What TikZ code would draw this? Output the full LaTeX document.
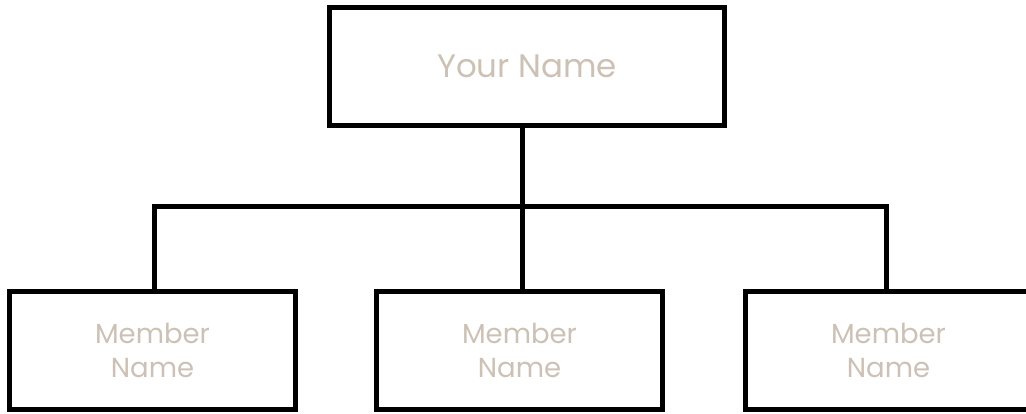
\documentclass[tikz,border=0pt]{standalone}
\usepackage{fontspec}
\setmainfont{Poppins}
\usetikzlibrary{positioning}
\definecolor{namecol}{RGB}{204,193,180}
\tikzset{
  namebox/.style={draw=black,line width=5pt,minimum width=286pt,minimum height=118pt,
    inner sep=0pt,align=center,text=namecol,font=\fontsize{27.5}{34}\selectfont},
  wire/.style={draw=black,line width=5pt}
}

\begin{document}
\begin{tikzpicture}[x=1pt,y=1pt,yscale=-1,xscale=1]
\useasboundingbox (0,0) rectangle (1026,414);
\clip (0,0) rectangle (1026,414);

% Boxes
\node[namebox,minimum width=395pt,font=\fontsize{32.5}{36}\selectfont] (top) at (527,66.5) {Your Name};
\node[namebox] (lft) at (152.5,350.5) {Member\\Name};
\node[namebox] (mid) at (519.5,350.5) {Member\\Name};
\node[namebox] (rgt) at (888.5,350.5) {Member\\Name};

% Junctions
\coordinate (hub) at (522,207);
\coordinate (jl) at (154,207);
\coordinate (jr) at (886,207);

% Connections
\draw[wire] (top.south -| hub) -- (mid.north -| hub);
\draw[wire] (lft.north -| jl) -- (jl) -- (jr) -- (rgt.north -| jr);

\end{tikzpicture}
\end{document}
